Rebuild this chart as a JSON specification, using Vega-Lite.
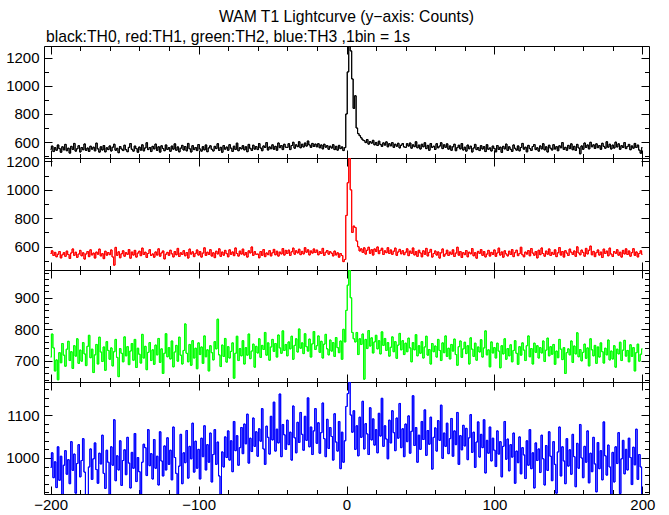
{
"$schema": "https://vega.github.io/schema/vega-lite/v6.json",
"background": "white",
"padding": {"left": 5, "top": 8, "right": 5, "bottom": 5},
"data": {"values": [
{"t":-200,"a":548,"b":552,"c":712,"d":978},{"t":-199,"a":571,"b":571,"c":785,"d":1012},{"t":-198,"a":532,"b":538,"c":741,"d":954},{"t":-197,"a":560,"b":560,"c":668,"d":991},{"t":-196,"a":541,"b":529,"c":703,"d":931},{"t":-195,"a":579,"b":547,"c":640,"d":1026},{"t":-194,"a":553,"b":566,"c":726,"d":948},{"t":-193,"a":527,"b":521,"c":694,"d":1004},{"t":-192,"a":566,"b":543,"c":755,"d":912},{"t":-191,"a":544,"b":558,"c":718,"d":983},
{"t":-190,"a":583,"b":532,"c":683,"d":1017},{"t":-189,"a":538,"b":569,"c":737,"d":962},{"t":-188,"a":556,"b":545,"c":762,"d":996},{"t":-187,"a":521,"b":517,"c":701,"d":940},{"t":-186,"a":569,"b":556,"c":729,"d":1038},{"t":-185,"a":547,"b":584,"c":676,"d":971},{"t":-184,"a":590,"b":539,"c":748,"d":1009},{"t":-183,"a":535,"b":561,"c":715,"d":918},{"t":-182,"a":552,"b":525,"c":770,"d":987},{"t":-181,"a":574,"b":548,"c":692,"d":1031},
{"t":-180,"a":529,"b":574,"c":734,"d":956},{"t":-179,"a":561,"b":536,"c":699,"d":994},{"t":-178,"a":545,"b":557,"c":758,"d":1045},{"t":-177,"a":586,"b":513,"c":722,"d":967},{"t":-176,"a":540,"b":549,"c":685,"d":912},{"t":-175,"a":557,"b":566,"c":746,"d":910},{"t":-174,"a":533,"b":530,"c":781,"d":979},{"t":-173,"a":570,"b":578,"c":710,"d":1021},{"t":-172,"a":549,"b":542,"c":737,"d":950},{"t":-171,"a":563,"b":555,"c":663,"d":998},
{"t":-170,"a":537,"b":520,"c":719,"d":1035},{"t":-169,"a":592,"b":562,"c":752,"d":973},{"t":-168,"a":551,"b":547,"c":690,"d":941},{"t":-167,"a":528,"b":583,"c":775,"d":1011},{"t":-166,"a":566,"b":535,"c":728,"d":986},{"t":-165,"a":543,"b":551,"c":698,"d":1053},{"t":-164,"a":575,"b":516,"c":744,"d":964},{"t":-163,"a":530,"b":568,"c":670,"d":929},{"t":-162,"a":559,"b":540,"c":761,"d":1018},{"t":-161,"a":546,"b":559,"c":733,"d":990},
{"t":-160,"a":572,"b":544,"c":705,"d":912},{"t":-159,"a":536,"b":577,"c":741,"d":1026},{"t":-158,"a":563,"b":528,"c":684,"d":983},{"t":-157,"a":584,"b":470,"c":729,"d":1089},{"t":-156,"a":541,"b":595,"c":768,"d":947},{"t":-155,"a":555,"b":539,"c":711,"d":1005},{"t":-154,"a":524,"b":564,"c":650,"d":972},{"t":-153,"a":568,"b":522,"c":739,"d":1040},{"t":-152,"a":550,"b":550,"c":724,"d":936},{"t":-151,"a":539,"b":571,"c":697,"d":994},
{"t":-150,"a":577,"b":533,"c":776,"d":1019},{"t":-149,"a":545,"b":558,"c":716,"d":961},{"t":-148,"a":531,"b":546,"c":745,"d":1048},{"t":-147,"a":562,"b":580,"c":688,"d":988},{"t":-146,"a":589,"b":519,"c":731,"d":930},{"t":-145,"a":548,"b":562,"c":755,"d":1013},{"t":-144,"a":535,"b":541,"c":702,"d":976},{"t":-143,"a":571,"b":574,"c":768,"d":1057},{"t":-142,"a":553,"b":527,"c":679,"d":945},{"t":-141,"a":527,"b":555,"c":740,"d":1001},
{"t":-140,"a":564,"b":568,"c":721,"d":968},{"t":-139,"a":542,"b":537,"c":693,"d":915},{"t":-138,"a":580,"b":590,"c":784,"d":990},{"t":-137,"a":537,"b":545,"c":709,"d":1032},{"t":-136,"a":558,"b":561,"c":746,"d":1024},{"t":-135,"a":595,"b":524,"c":672,"d":959},{"t":-134,"a":546,"b":552,"c":727,"d":1066},{"t":-133,"a":561,"b":579,"c":758,"d":982},{"t":-132,"a":532,"b":538,"c":701,"d":1010},{"t":-131,"a":569,"b":549,"c":735,"d":951},
{"t":-130,"a":551,"b":526,"c":689,"d":1043},{"t":-129,"a":585,"b":563,"c":750,"d":976},{"t":-128,"a":540,"b":541,"c":719,"d":1004},{"t":-127,"a":566,"b":585,"c":771,"d":937},{"t":-126,"a":528,"b":533,"c":695,"d":1061},{"t":-125,"a":573,"b":556,"c":738,"d":993},{"t":-124,"a":554,"b":570,"c":660,"d":958},{"t":-123,"a":538,"b":514,"c":724,"d":1028},{"t":-122,"a":579,"b":547,"c":786,"d":972},{"t":-121,"a":547,"b":560,"c":713,"d":1047},
{"t":-120,"a":560,"b":539,"c":742,"d":985},{"t":-119,"a":534,"b":575,"c":706,"d":1018},{"t":-118,"a":571,"b":550,"c":763,"d":949},{"t":-117,"a":549,"b":528,"c":681,"d":1072},{"t":-116,"a":587,"b":566,"c":728,"d":1001},{"t":-115,"a":541,"b":543,"c":749,"d":964},{"t":-114,"a":565,"b":588,"c":699,"d":914},{"t":-113,"a":530,"b":531,"c":775,"d":981},{"t":-112,"a":556,"b":557,"c":718,"d":1055},{"t":-111,"a":576,"b":545,"c":690,"d":940},
{"t":-110,"a":543,"b":572,"c":733,"d":1012},{"t":-109,"a":568,"b":536,"c":817,"d":989},{"t":-108,"a":537,"b":559,"c":724,"d":1064},{"t":-107,"a":590,"b":520,"c":697,"d":953},{"t":-106,"a":552,"b":583,"c":752,"d":1027},{"t":-105,"a":529,"b":548,"c":686,"d":998},{"t":-104,"a":574,"b":564,"c":764,"d":1081},{"t":-103,"a":546,"b":530,"c":709,"d":967},{"t":-102,"a":561,"b":553,"c":740,"d":1039},{"t":-101,"a":539,"b":577,"c":675,"d":976},
{"t":-100,"a":582,"b":541,"c":757,"d":1020},{"t":-99,"a":550,"b":566,"c":720,"d":951},{"t":-98,"a":535,"b":527,"c":744,"d":1046},{"t":-97,"a":567,"b":555,"c":692,"d":1003},{"t":-96,"a":544,"b":592,"c":779,"d":1075},{"t":-95,"a":579,"b":538,"c":713,"d":972},{"t":-94,"a":531,"b":561,"c":735,"d":1031},{"t":-93,"a":558,"b":545,"c":668,"d":990},{"t":-92,"a":573,"b":579,"c":748,"d":1058},{"t":-91,"a":548,"b":534,"c":726,"d":944},
{"t":-90,"a":536,"b":557,"c":703,"d":1008},{"t":-89,"a":569,"b":523,"c":761,"d":1066},{"t":-88,"a":553,"b":568,"c":738,"d":985},{"t":-87,"a":588,"b":549,"c":832,"d":1037},{"t":-86,"a":540,"b":585,"c":719,"d":958},{"t":-85,"a":562,"b":532,"c":682,"d":914},{"t":-84,"a":527,"b":562,"c":750,"d":1014},{"t":-83,"a":575,"b":540,"c":714,"d":979},{"t":-82,"a":549,"b":574,"c":771,"d":1049},{"t":-81,"a":564,"b":551,"c":696,"d":1001},
{"t":-80,"a":541,"b":529,"c":745,"d":1063},{"t":-79,"a":581,"b":578,"c":709,"d":995},{"t":-78,"a":556,"b":546,"c":730,"d":1040},{"t":-77,"a":533,"b":563,"c":757,"d":968},{"t":-76,"a":570,"b":537,"c":645,"d":1085},{"t":-75,"a":547,"b":591,"c":724,"d":1017},{"t":-74,"a":592,"b":552,"c":778,"d":1052},{"t":-73,"a":538,"b":534,"c":701,"d":983},{"t":-72,"a":560,"b":569,"c":739,"d":1024},{"t":-71,"a":551,"b":548,"c":716,"d":1071},
{"t":-70,"a":574,"b":583,"c":764,"d":1010},{"t":-69,"a":544,"b":541,"c":690,"d":1079},{"t":-68,"a":566,"b":559,"c":742,"d":1033},{"t":-67,"a":531,"b":527,"c":718,"d":1102},{"t":-66,"a":583,"b":571,"c":785,"d":988},{"t":-65,"a":555,"b":556,"c":707,"d":1046},{"t":-64,"a":540,"b":598,"c":731,"d":1015},{"t":-63,"a":577,"b":539,"c":753,"d":1093},{"t":-62,"a":549,"b":565,"c":680,"d":1027},{"t":-61,"a":568,"b":547,"c":746,"d":1061},
{"t":-60,"a":546,"b":548,"c":725,"d":1004},{"t":-59,"a":589,"b":522,"c":770,"d":1068},{"t":-58,"a":557,"b":566,"c":711,"d":1039},{"t":-57,"a":538,"b":539,"c":749,"d":1115},{"t":-56,"a":572,"b":580,"c":736,"d":1021},{"t":-55,"a":561,"b":530,"c":790,"d":985},{"t":-54,"a":596,"b":556,"c":718,"d":1074},{"t":-53,"a":543,"b":544,"c":757,"d":1048},{"t":-52,"a":565,"b":572,"c":702,"d":1009},{"t":-51,"a":552,"b":535,"c":744,"d":1097},
{"t":-50,"a":580,"b":557,"c":768,"d":1042},{"t":-49,"a":548,"b":581,"c":730,"d":1130},{"t":-48,"a":569,"b":543,"c":755,"d":1016},{"t":-47,"a":541,"b":568,"c":712,"d":1067},{"t":-46,"a":593,"b":534,"c":782,"d":1035},{"t":-45,"a":560,"b":562,"c":741,"d":1149},{"t":-44,"a":575,"b":549,"c":724,"d":1003},{"t":-43,"a":546,"b":587,"c":795,"d":1078},{"t":-42,"a":584,"b":541,"c":733,"d":1054},{"t":-41,"a":563,"b":574,"c":752,"d":1020},
{"t":-40,"a":561,"b":552,"c":716,"d":1088},{"t":-39,"a":588,"b":576,"c":760,"d":1031},{"t":-38,"a":546,"b":538,"c":738,"d":1060},{"t":-37,"a":575,"b":564,"c":778,"d":995},{"t":-36,"a":598,"b":590,"c":705,"d":1121},{"t":-35,"a":556,"b":547,"c":749,"d":1047},{"t":-34,"a":580,"b":571,"c":770,"d":1012},{"t":-33,"a":567,"b":556,"c":728,"d":1083},{"t":-32,"a":602,"b":582,"c":801,"d":1036},{"t":-31,"a":559,"b":544,"c":740,"d":1106},
{"t":-30,"a":584,"b":567,"c":757,"d":1055},{"t":-29,"a":565,"b":549,"c":723,"d":1018},{"t":-28,"a":593,"b":593,"c":786,"d":1097},{"t":-27,"a":571,"b":561,"c":745,"d":1041},{"t":-26,"a":607,"b":578,"c":731,"d":1140},{"t":-25,"a":579,"b":542,"c":769,"d":1026},{"t":-24,"a":562,"b":570,"c":712,"d":1072},{"t":-23,"a":590,"b":555,"c":754,"d":1008},{"t":-22,"a":568,"b":584,"c":793,"d":1063},{"t":-21,"a":585,"b":559,"c":736,"d":1115},
{"t":-20,"a":566,"b":576,"c":748,"d":1034},{"t":-19,"a":588,"b":543,"c":779,"d":1082},{"t":-18,"a":559,"b":565,"c":727,"d":1011},{"t":-17,"a":579,"b":552,"c":762,"d":1059},{"t":-16,"a":551,"b":588,"c":709,"d":1128},{"t":-15,"a":584,"b":539,"c":753,"d":1045},{"t":-14,"a":563,"b":561,"c":784,"d":1003},{"t":-13,"a":574,"b":573,"c":738,"d":1090},{"t":-12,"a":548,"b":547,"c":719,"d":1022},{"t":-11,"a":570,"b":565,"c":766,"d":1071},
{"t":-10,"a":557,"b":554,"c":731,"d":1050},{"t":-9,"a":581,"b":535,"c":758,"d":995},{"t":-8,"a":546,"b":569,"c":714,"d":1103},{"t":-7,"a":569,"b":542,"c":774,"d":1037},{"t":-6,"a":542,"b":557,"c":742,"d":1016},{"t":-5,"a":576,"b":526,"c":726,"d":1085},{"t":-4,"a":553,"b":552,"c":763,"d":975},{"t":-3,"a":565,"b":538,"c":705,"d":1060},{"t":-2,"a":539,"b":495,"c":800,"d":990},{"t":-1,"a":560,"b":510,"c":760,"d":1040},
{"t":0,"a":800,"b":820,"c":860,"d":1120},{"t":1,"a":1100,"b":1050,"c":940,"d":1150},{"t":2,"a":1300,"b":1240,"c":995,"d":1185},{"t":3,"a":1250,"b":1000,"c":900,"d":1100},{"t":4,"a":1050,"b":700,"c":790,"d":1060},{"t":5,"a":840,"b":745,"c":770,"d":1110},{"t":6,"a":930,"b":735,"c":760,"d":1020},{"t":7,"a":700,"b":640,"c":790,"d":1075},{"t":8,"a":660,"b":600,"c":720,"d":1005},{"t":9,"a":645,"b":570,"c":770,"d":1095},
{"t":10,"a":630,"b":585,"c":752,"d":1048},{"t":11,"a":615,"b":560,"c":785,"d":1132},{"t":12,"a":610,"b":592,"c":642,"d":1021},{"t":13,"a":596,"b":548,"c":768,"d":1080},{"t":14,"a":618,"b":575,"c":739,"d":1056},{"t":15,"a":585,"b":596,"c":796,"d":1008},{"t":16,"a":603,"b":553,"c":747,"d":1117},{"t":17,"a":592,"b":579,"c":773,"d":1042},{"t":18,"a":612,"b":541,"c":725,"d":1091},{"t":19,"a":580,"b":584,"c":760,"d":1030},
{"t":20,"a":597,"b":566,"c":781,"d":1066},{"t":21,"a":575,"b":598,"c":738,"d":1012},{"t":22,"a":606,"b":551,"c":764,"d":1104},{"t":23,"a":583,"b":574,"c":722,"d":1051},{"t":24,"a":569,"b":589,"c":792,"d":1139},{"t":25,"a":594,"b":545,"c":749,"d":1027},{"t":26,"a":578,"b":571,"c":771,"d":1075},{"t":27,"a":601,"b":558,"c":733,"d":1044},{"t":28,"a":566,"b":593,"c":758,"d":998},{"t":29,"a":588,"b":552,"c":715,"d":1088},
{"t":30,"a":573,"b":577,"c":743,"d":1035},{"t":31,"a":596,"b":546,"c":776,"d":1110},{"t":32,"a":562,"b":568,"c":729,"d":1059},{"t":33,"a":584,"b":590,"c":761,"d":1017},{"t":34,"a":570,"b":539,"c":708,"d":1093},{"t":35,"a":591,"b":563,"c":750,"d":1046},{"t":36,"a":558,"b":581,"c":787,"d":1127},{"t":37,"a":577,"b":550,"c":735,"d":1024},{"t":38,"a":589,"b":572,"c":764,"d":1068},{"t":39,"a":565,"b":544,"c":720,"d":1003},
{"t":40,"a":562,"b":561,"c":756,"d":1079},{"t":41,"a":588,"b":585,"c":729,"d":1038},{"t":42,"a":571,"b":537,"c":772,"d":1098},{"t":43,"a":593,"b":569,"c":741,"d":1011},{"t":44,"a":556,"b":553,"c":697,"d":1062},{"t":45,"a":580,"b":591,"c":758,"d":1145},{"t":46,"a":567,"b":542,"c":735,"d":1029},{"t":47,"a":602,"b":566,"c":783,"d":1071},{"t":48,"a":559,"b":532,"c":716,"d":990},{"t":49,"a":578,"b":575,"c":748,"d":1053},
{"t":50,"a":550,"b":556,"c":724,"d":1020},{"t":51,"a":584,"b":529,"c":761,"d":1085},{"t":52,"a":566,"b":571,"c":709,"d":1043},{"t":53,"a":595,"b":546,"c":744,"d":1112},{"t":54,"a":553,"b":588,"c":778,"d":1006},{"t":55,"a":576,"b":535,"c":718,"d":1064},{"t":56,"a":541,"b":560,"c":736,"d":1032},{"t":57,"a":589,"b":581,"c":690,"d":1095},{"t":58,"a":562,"b":527,"c":755,"d":974},{"t":59,"a":570,"b":552,"c":729,"d":1048},
{"t":60,"a":547,"b":570,"c":747,"d":1070},{"t":61,"a":588,"b":541,"c":712,"d":1016},{"t":62,"a":559,"b":563,"c":768,"d":1087},{"t":63,"a":571,"b":520,"c":733,"d":1041},{"t":64,"a":595,"b":557,"c":701,"d":1123},{"t":65,"a":553,"b":584,"c":757,"d":999},{"t":66,"a":580,"b":533,"c":726,"d":1058},{"t":67,"a":562,"b":549,"c":779,"d":1027},{"t":68,"a":587,"b":575,"c":714,"d":1081},{"t":69,"a":549,"b":538,"c":740,"d":1010},
{"t":70,"a":572,"b":562,"c":706,"d":1045},{"t":71,"a":541,"b":547,"c":752,"d":1092},{"t":72,"a":566,"b":578,"c":731,"d":1004},{"t":73,"a":584,"b":531,"c":769,"d":1063},{"t":74,"a":538,"b":555,"c":720,"d":1031},{"t":75,"a":560,"b":596,"c":686,"d":1106},{"t":76,"a":577,"b":540,"c":745,"d":985},{"t":77,"a":551,"b":566,"c":763,"d":1052},{"t":78,"a":589,"b":524,"c":711,"d":1019},{"t":79,"a":543,"b":558,"c":738,"d":1076},
{"t":80,"a":563,"b":544,"c":759,"d":1028},{"t":81,"a":535,"b":573,"c":723,"d":1069},{"t":82,"a":578,"b":529,"c":748,"d":996},{"t":83,"a":552,"b":561,"c":690,"d":1047},{"t":84,"a":570,"b":550,"c":773,"d":1101},{"t":85,"a":529,"b":587,"c":737,"d":1013},{"t":86,"a":557,"b":536,"c":714,"d":1060},{"t":87,"a":583,"b":558,"c":756,"d":978},{"t":88,"a":546,"b":519,"c":702,"d":1037},{"t":89,"a":561,"b":567,"c":744,"d":1084},
{"t":90,"a":539,"b":553,"c":728,"d":1002},{"t":91,"a":574,"b":580,"c":767,"d":1055},{"t":92,"a":550,"b":539,"c":712,"d":1024},{"t":93,"a":567,"b":566,"c":741,"d":1089},{"t":94,"a":532,"b":528,"c":795,"d":965},{"t":95,"a":581,"b":548,"c":719,"d":1041},{"t":96,"a":548,"b":574,"c":735,"d":1011},{"t":97,"a":558,"b":534,"c":681,"d":1072},{"t":98,"a":536,"b":560,"c":760,"d":993},{"t":99,"a":571,"b":545,"c":725,"d":1046},
{"t":100,"a":554,"b":577,"c":742,"d":1018},{"t":101,"a":530,"b":532,"c":709,"d":980},{"t":102,"a":575,"b":556,"c":756,"d":1063},{"t":103,"a":547,"b":590,"c":731,"d":1009},{"t":104,"a":563,"b":541,"c":678,"d":1038},{"t":105,"a":526,"b":563,"c":748,"d":956},{"t":106,"a":569,"b":526,"c":722,"d":1027},{"t":107,"a":551,"b":571,"c":770,"d":1085},{"t":108,"a":585,"b":549,"c":705,"d":997},{"t":109,"a":540,"b":535,"c":739,"d":1044},
{"t":110,"a":566,"b":568,"c":716,"d":970},{"t":111,"a":548,"b":545,"c":751,"d":1031},{"t":112,"a":533,"b":580,"c":697,"d":1002},{"t":113,"a":579,"b":530,"c":733,"d":1058},{"t":114,"a":555,"b":558,"c":764,"d":941},{"t":115,"a":542,"b":575,"c":724,"d":1016},{"t":116,"a":572,"b":537,"c":689,"d":989},{"t":117,"a":537,"b":552,"c":745,"d":1049},{"t":118,"a":561,"b":596,"c":718,"d":963},{"t":119,"a":590,"b":543,"c":757,"d":1024},
{"t":120,"a":549,"b":529,"c":734,"d":1007},{"t":121,"a":563,"b":562,"c":701,"d":952},{"t":122,"a":530,"b":548,"c":748,"d":1040},{"t":123,"a":576,"b":573,"c":779,"d":983},{"t":124,"a":553,"b":536,"c":713,"d":1066},{"t":125,"a":540,"b":587,"c":739,"d":975},{"t":126,"a":568,"b":555,"c":690,"d":1012},{"t":127,"a":582,"b":540,"c":756,"d":930},{"t":128,"a":546,"b":566,"c":727,"d":1035},{"t":129,"a":559,"b":521,"c":748,"d":994},
{"t":130,"a":535,"b":575,"c":709,"d":1021},{"t":131,"a":572,"b":544,"c":742,"d":966},{"t":132,"a":551,"b":591,"c":725,"d":1053},{"t":133,"a":588,"b":552,"c":763,"d":998},{"t":134,"a":544,"b":533,"c":698,"d":937},{"t":135,"a":566,"b":569,"c":734,"d":1029},{"t":136,"a":529,"b":547,"c":772,"d":971},{"t":137,"a":577,"b":584,"c":716,"d":1061},{"t":138,"a":556,"b":538,"c":745,"d":1004},{"t":139,"a":543,"b":560,"c":721,"d":947},
{"t":140,"a":581,"b":546,"c":752,"d":1038},{"t":141,"a":550,"b":578,"c":689,"d":985},{"t":142,"a":567,"b":530,"c":731,"d":918},{"t":143,"a":538,"b":557,"c":710,"d":1014},{"t":144,"a":573,"b":594,"c":768,"d":1072},{"t":145,"a":559,"b":541,"c":737,"d":958},{"t":146,"a":596,"b":566,"c":704,"d":1026},{"t":147,"a":547,"b":527,"c":742,"d":993},{"t":148,"a":562,"b":572,"c":660,"d":940},{"t":149,"a":541,"b":555,"c":726,"d":1045},
{"t":150,"a":576,"b":538,"c":738,"d":981},{"t":151,"a":553,"b":583,"c":719,"d":1019},{"t":152,"a":587,"b":561,"c":763,"d":962},{"t":153,"a":545,"b":545,"c":695,"d":1055},{"t":154,"a":569,"b":570,"c":747,"d":1003},{"t":155,"a":540,"b":532,"c":722,"d":933},{"t":156,"a":583,"b":599,"c":789,"d":1034},{"t":157,"a":558,"b":556,"c":713,"d":976},{"t":158,"a":516,"b":543,"c":736,"d":1078},{"t":159,"a":572,"b":576,"c":700,"d":1000},
{"t":160,"a":548,"b":560,"c":727,"d":954},{"t":161,"a":593,"b":533,"c":753,"d":1027},{"t":162,"a":561,"b":588,"c":708,"d":990},{"t":163,"a":579,"b":549,"c":741,"d":1063},{"t":164,"a":551,"b":575,"c":684,"d":942},{"t":165,"a":598,"b":604,"c":770,"d":1011},{"t":166,"a":566,"b":543,"c":735,"d":968},{"t":167,"a":580,"b":567,"c":716,"d":1048},{"t":168,"a":554,"b":530,"c":749,"d":986},{"t":169,"a":587,"b":558,"c":692,"d":921},
{"t":170,"a":560,"b":577,"c":744,"d":1036},{"t":171,"a":575,"b":541,"c":712,"d":975},{"t":172,"a":548,"b":562,"c":757,"d":1017},{"t":173,"a":591,"b":524,"c":729,"d":949},{"t":174,"a":569,"b":583,"c":693,"d":1084},{"t":175,"a":556,"b":552,"c":740,"d":1005},{"t":176,"a":602,"b":569,"c":719,"d":960},{"t":177,"a":563,"b":536,"c":766,"d":1030},{"t":178,"a":584,"b":590,"c":703,"d":979},{"t":179,"a":550,"b":548,"c":731,"d":913},
{"t":180,"a":578,"b":531,"c":706,"d":1013},{"t":181,"a":557,"b":566,"c":748,"d":944},{"t":182,"a":599,"b":553,"c":680,"d":1026},{"t":183,"a":565,"b":579,"c":737,"d":987},{"t":184,"a":587,"b":540,"c":722,"d":1059},{"t":185,"a":548,"b":561,"c":759,"d":917},{"t":186,"a":574,"b":527,"c":701,"d":998},{"t":187,"a":561,"b":574,"c":734,"d":1041},{"t":188,"a":596,"b":549,"c":765,"d":963},{"t":189,"a":553,"b":585,"c":715,"d":1020},
{"t":190,"a":568,"b":545,"c":733,"d":972},{"t":191,"a":583,"b":570,"c":697,"d":1046},{"t":192,"a":545,"b":533,"c":751,"d":1001},{"t":193,"a":572,"b":558,"c":714,"d":938},{"t":194,"a":556,"b":586,"c":742,"d":1025},{"t":195,"a":590,"b":539,"c":668,"d":984},{"t":196,"a":561,"b":563,"c":726,"d":1067},{"t":197,"a":578,"b":528,"c":753,"d":950},{"t":198,"a":542,"b":552,"c":699,"d":1008},{"t":199,"a":520,"b":571,"c":721,"d":979},
{"t":200,"a":560,"b":546,"c":738,"d":915}
]},
"title": {"text": "WAM T1 Lightcurve (y−axis: Counts)", "anchor": "middle", "frame": "group", "offset": 3},
"spacing": 0,
"bounds": "flush",
"vconcat": [
{
"title": {"text": "black:TH0, red:TH1, green:TH2, blue:TH3 ,1bin = 1s", "anchor": "start", "frame": "group", "offset": 0, "dx": 2},
"width": 605, "height": 112,
"layer": [
{"mark": {"type": "line", "color": "#000000", "strokeWidth": 1, "interpolate": "step", "clip": true},
"encoding": {
"x": {"field": "t", "type": "quantitative", "scale": {"domain": [-204.5, 204.5], "nice": false, "zero": false},
"axis": {"orient": "bottom", "values": [-200,-180,-160,-140,-120,-100,-80,-60,-40,-20,0,20,40,60,80,100,120,140,160,180,200], "tickSize": {"condition": {"test": "datum.value % 100 === 0", "value": -8}, "value": -4.5}, "labels": false, "title": null}},
"y": {"field": "a", "type": "quantitative", "scale": {"domain": [486, 1285], "nice": false, "zero": false},
"axis": {"orient": "left", "values": [500,600,700,800,900,1000,1100,1200], "format": "d", "tickSize": {"condition": {"test": "datum.value % 200 === 0", "value": -8}, "value": -4.5}, "labelExpr": "datum.value % 200 === 0 ? datum.label : ''", "labelPadding": 13, "title": null}}}},
{"mark": {"type": "line", "color": "#000000", "strokeWidth": 1, "interpolate": "step", "clip": true},
"encoding": {
"x": {"field": "t", "type": "quantitative", "scale": {"domain": [-204.5, 204.5], "nice": false, "zero": false},
"axis": {"orient": "top", "values": [-200,-180,-160,-140,-120,-100,-80,-60,-40,-20,0,20,40,60,80,100,120,140,160,180,200], "tickSize": {"condition": {"test": "datum.value % 100 === 0", "value": -8}, "value": -4.5}, "labels": false, "title": null}},
"y": {"field": "a", "type": "quantitative", "scale": {"domain": [486, 1285], "nice": false, "zero": false},
"axis": {"orient": "right", "values": [500,600,700,800,900,1000,1100,1200], "tickSize": {"condition": {"test": "datum.value % 200 === 0", "value": -8}, "value": -4.5}, "labels": false, "title": null}}}}
],
"resolve": {"axis": {"x": "independent", "y": "independent"}}
},
{
"width": 605, "height": 112,
"layer": [
{"mark": {"type": "line", "color": "#ff0000", "strokeWidth": 1, "interpolate": "step", "clip": true},
"encoding": {
"x": {"field": "t", "type": "quantitative", "scale": {"domain": [-204.5, 204.5], "nice": false, "zero": false},
"axis": {"orient": "bottom", "values": [-200,-180,-160,-140,-120,-100,-80,-60,-40,-20,0,20,40,60,80,100,120,140,160,180,200], "tickSize": {"condition": {"test": "datum.value % 100 === 0", "value": -8}, "value": -4.5}, "labels": false, "title": null}},
"y": {"field": "b", "type": "quantitative", "scale": {"domain": [436, 1224], "nice": false, "zero": false},
"axis": {"orient": "left", "values": [500,600,700,800,900,1000,1100,1200], "format": "d", "tickSize": {"condition": {"test": "datum.value % 200 === 0", "value": -8}, "value": -4.5}, "labelExpr": "datum.value % 200 === 0 ? datum.label : ''", "labelPadding": 13, "title": null}}}},
{"mark": {"type": "line", "color": "#ff0000", "strokeWidth": 1, "interpolate": "step", "clip": true},
"encoding": {
"x": {"field": "t", "type": "quantitative", "scale": {"domain": [-204.5, 204.5], "nice": false, "zero": false},
"axis": {"orient": "top", "values": [-200,-180,-160,-140,-120,-100,-80,-60,-40,-20,0,20,40,60,80,100,120,140,160,180,200], "tickSize": {"condition": {"test": "datum.value % 100 === 0", "value": -8}, "value": -4.5}, "labels": false, "title": null}},
"y": {"field": "b", "type": "quantitative", "scale": {"domain": [436, 1224], "nice": false, "zero": false},
"axis": {"orient": "right", "values": [500,600,700,800,900,1000,1100,1200], "tickSize": {"condition": {"test": "datum.value % 200 === 0", "value": -8}, "value": -4.5}, "labels": false, "title": null}}}}
],
"resolve": {"axis": {"x": "independent", "y": "independent"}}
},
{
"width": 605, "height": 112,
"layer": [
{"mark": {"type": "line", "color": "#00ff00", "strokeWidth": 1, "interpolate": "step", "clip": true},
"encoding": {
"x": {"field": "t", "type": "quantitative", "scale": {"domain": [-204.5, 204.5], "nice": false, "zero": false},
"axis": {"orient": "bottom", "values": [-200,-180,-160,-140,-120,-100,-80,-60,-40,-20,0,20,40,60,80,100,120,140,160,180,200], "tickSize": {"condition": {"test": "datum.value % 100 === 0", "value": -8}, "value": -4.5}, "labels": false, "title": null}},
"y": {"field": "c", "type": "quantitative", "scale": {"domain": [633, 988], "nice": false, "zero": false},
"axis": {"orient": "left", "values": [640,660,680,700,720,740,760,780,800,820,840,860,880,900,920,940,960,980], "format": "d", "tickSize": {"condition": {"test": "datum.value % 100 === 0", "value": -8}, "value": -4.5}, "labelExpr": "datum.value % 100 === 0 ? datum.label : ''", "labelPadding": 13, "title": null}}}},
{"mark": {"type": "line", "color": "#00ff00", "strokeWidth": 1, "interpolate": "step", "clip": true},
"encoding": {
"x": {"field": "t", "type": "quantitative", "scale": {"domain": [-204.5, 204.5], "nice": false, "zero": false},
"axis": {"orient": "top", "values": [-200,-180,-160,-140,-120,-100,-80,-60,-40,-20,0,20,40,60,80,100,120,140,160,180,200], "tickSize": {"condition": {"test": "datum.value % 100 === 0", "value": -8}, "value": -4.5}, "labels": false, "title": null}},
"y": {"field": "c", "type": "quantitative", "scale": {"domain": [633, 988], "nice": false, "zero": false},
"axis": {"orient": "right", "values": [640,660,680,700,720,740,760,780,800,820,840,860,880,900,920,940,960,980], "tickSize": {"condition": {"test": "datum.value % 100 === 0", "value": -8}, "value": -4.5}, "labels": false, "title": null}}}}
],
"resolve": {"axis": {"x": "independent", "y": "independent"}}
},
{
"width": 605, "height": 112,
"layer": [
{"mark": {"type": "line", "color": "#0000ff", "strokeWidth": 1, "interpolate": "step", "clip": true},
"encoding": {
"x": {"field": "t", "type": "quantitative", "scale": {"domain": [-204.5, 204.5], "nice": false, "zero": false},
"axis": {"orient": "bottom", "values": [-200,-180,-160,-140,-120,-100,-80,-60,-40,-20,0,20,40,60,80,100,120,140,160,180,200], "format": "d", "tickSize": {"condition": {"test": "datum.value % 100 === 0", "value": -8}, "value": -4.5}, "labelExpr": "datum.value % 100 === 0 ? datum.label : ''", "labelPadding": 11.5, "title": null}},
"y": {"field": "d", "type": "quantitative", "scale": {"domain": [916, 1177], "nice": false, "zero": false},
"axis": {"orient": "left", "values": [920,940,960,980,1000,1020,1040,1060,1080,1100,1120,1140,1160], "format": "d", "tickSize": {"condition": {"test": "datum.value % 100 === 0", "value": -8}, "value": -4.5}, "labelExpr": "datum.value % 100 === 0 ? datum.label : ''", "labelPadding": 13, "title": null}}}},
{"mark": {"type": "line", "color": "#0000ff", "strokeWidth": 1, "interpolate": "step", "clip": true},
"encoding": {
"x": {"field": "t", "type": "quantitative", "scale": {"domain": [-204.5, 204.5], "nice": false, "zero": false},
"axis": {"orient": "top", "values": [-200,-180,-160,-140,-120,-100,-80,-60,-40,-20,0,20,40,60,80,100,120,140,160,180,200], "tickSize": {"condition": {"test": "datum.value % 100 === 0", "value": -8}, "value": -4.5}, "labels": false, "title": null}},
"y": {"field": "d", "type": "quantitative", "scale": {"domain": [916, 1177], "nice": false, "zero": false},
"axis": {"orient": "right", "values": [920,940,960,980,1000,1020,1040,1060,1080,1100,1120,1140,1160], "tickSize": {"condition": {"test": "datum.value % 100 === 0", "value": -8}, "value": -4.5}, "labels": false, "title": null}}}}
],
"resolve": {"axis": {"x": "independent", "y": "independent"}}
}
],
"config": {
"view": {"stroke": "#000000", "strokeWidth": 1},
"axis": {"domain": false, "grid": false, "tickColor": "#000000", "tickWidth": 1, "labelColor": "#000000", "labelFont": "Liberation Sans", "labelFontSize": 15, "labelOverlap": false, "labelFlush": false},
"title": {"font": "Liberation Sans", "fontSize": 15.7, "fontWeight": "normal", "color": "#000000"}
}
}
